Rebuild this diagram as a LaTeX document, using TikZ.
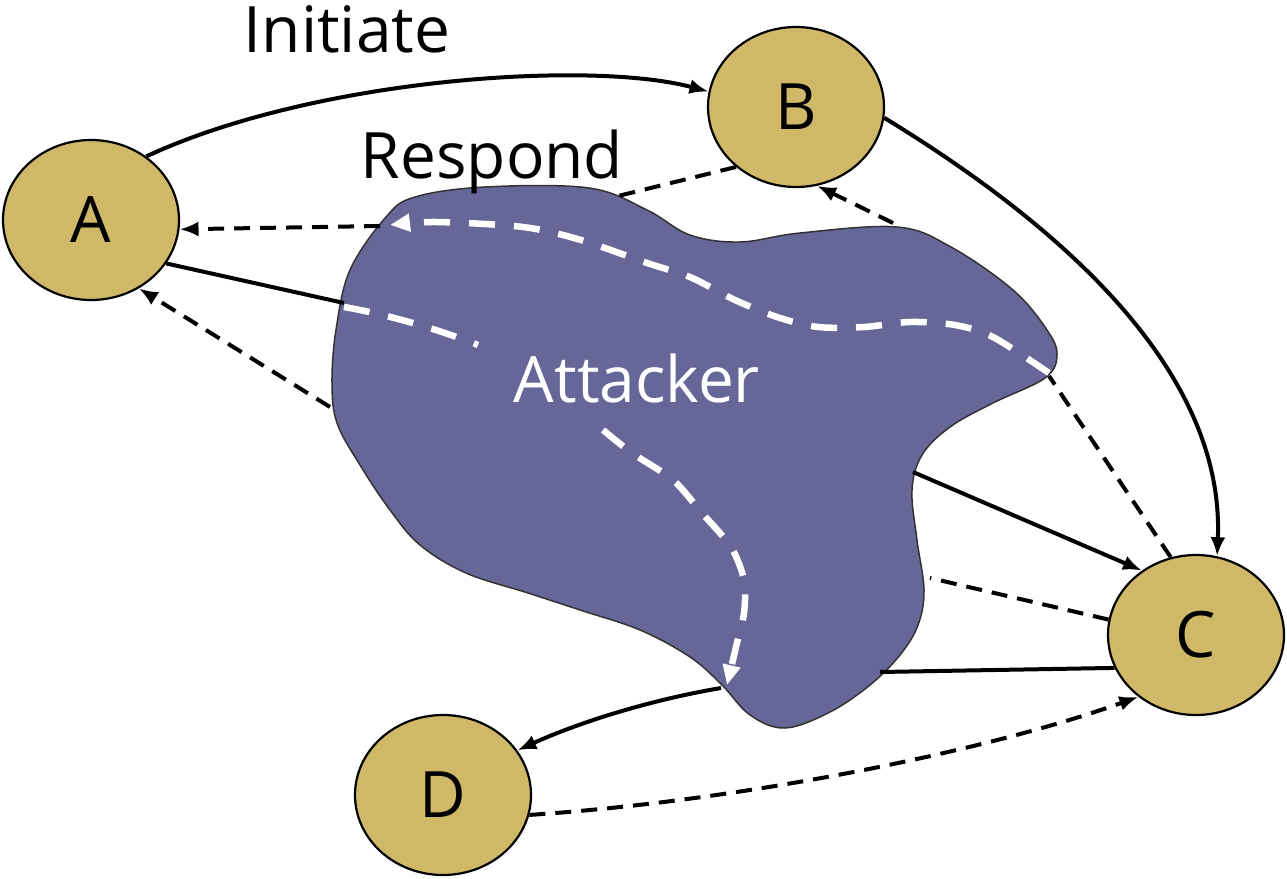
\documentclass[tikz,border=0pt]{standalone}
\usepackage{fontspec}
\setmainfont{Open Sans}
\usetikzlibrary{shapes.geometric,arrows.meta}
\definecolor{nodetan}{HTML}{CFB968}
\definecolor{blobblue}{HTML}{666699}
\begin{document}
\begin{tikzpicture}[x=1pt,y=1pt,
  party/.style={ellipse, draw=black, line width=2.2pt, fill=nodetan, minimum width=176pt, minimum height=160pt, inner sep=0pt, font=\fontsize{64}{70}\selectfont},
  conn/.style={line width=4pt, draw=black},
  dashconn/.style={conn, dash pattern=on 16pt off 10pt},
  tip/.style={-{Latex[length=19pt,width=15pt]}},
  wdash/.style={draw=white, line width=6.5pt, dash pattern=on 26pt off 19pt},
  wtip/.style={-{Triangle[length=20pt,width=17pt]}},
  lbl/.style={font=\fontsize{64}{70}\selectfont, anchor=base, inner sep=0pt}
]
\useasboundingbox (0,0) rectangle (1287,-878);

% attacker blob
\filldraw[fill=blobblue, draw=black!80, line width=1.5pt] plot[smooth cycle, tension=0.6] coordinates {
 (386,-217) (415,-197) (485,-187) (589,-188) (647,-210) (690,-235) (740,-242)
 (800,-233) (897,-227) (951,-247) (1013,-290) (1047,-330) (1057,-355) (1045,-378)
 (993,-403) (950,-427) (922,-455) (912,-490) (917,-540) (924,-590) (918,-625)
 (900,-655) (870,-685) (830,-712) (785,-728) (750,-715) (722,-685) (690,-657)
 (640,-630) (580,-610) (528,-593) (466,-573) (420,-545) (390,-510) (360,-465)
 (337,-423) (332,-383) (336,-330) (350,-270)};

% edge points of the blob
\coordinate (bA1) at (344,-303);
\coordinate (bA2) at (330,-407);
\coordinate (bA3) at (380,-226);
\coordinate (bB1) at (614,-197);
\coordinate (bB2) at (893,-223);
\coordinate (bC1) at (1049,-376);
\coordinate (bC2) at (913,-472);
\coordinate (bC3) at (930,-578);
\coordinate (bC4) at (880,-672);
\coordinate (bD) at (721,-688);

% white dashed paths inside the blob
\draw[wdash, wtip] plot[smooth] coordinates {(1049,-373) (993,-337) (955,-325) (910,-322) (864,-327) (818,-327) (777,-317) (735,-300) (690,-277) (647,-263) (581,-240) (523,-227) (436,-222) (390,-225)};
\draw[wdash] (344,-307) .. controls (390,-315) and (440,-330) .. (478,-345);
\draw[wdash, wtip] plot[smooth] coordinates {(603,-430) (632,-453) (673,-480) (702,-513) (731,-547) (744,-580) (744,-613) (736,-647) (727,-685)};

\node[lbl, text=white] (att) at (637,-402) {Attacker};
\node[lbl] (init) at (347,-52) {Initiate};
\node[lbl] (resp) at (492,-178) {Respond};

% parties
\node[party] (A) at (91,-220) {A};
\node[party] (B) at (796,-107) {B};
\node[party] (C) at (1196,-635) {C};
\node[party] (D) at (443,-795) {D};

% connectors
\draw[conn, tip] (A.49) .. controls (315,-78) and (590,-60) .. (B.170);
\draw[conn, tip] (B.-7) .. controls (1060,-225) and (1225,-370) .. (C.75);
\draw[dashconn] (C.108) -- (bC1);
\draw[dashconn, tip] (bA3) -- (A.-6);
\draw[dashconn, tip] (bB2) -- (B.-75);
\draw[dashconn] (B.-135) -- (bB1);
\draw[conn] (A.-30) -- (bA1);
\draw[conn, tip] (bD) .. controls (650,-700) and (580,-722) .. (D.31);
\draw[dashconn, tip] (D.-13) .. controls (750,-800) and (990,-750) .. (C.227);
\draw[conn, tip] (bC2) -- (C.130);
\draw[dashconn] (C.170) -- (bC3);
\draw[conn] (C.202) -- (bC4);
\draw[dashconn, tip] (bA2) -- (A.-55);
\end{tikzpicture}
\end{document}
